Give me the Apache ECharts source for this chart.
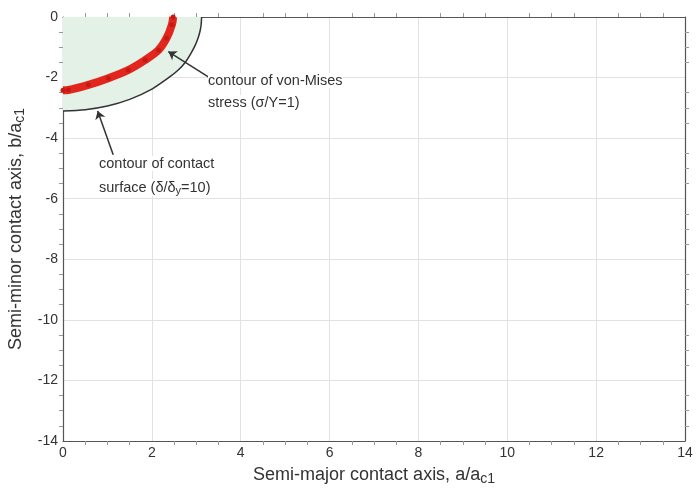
<!DOCTYPE html>
<html>
<head>
<meta charset="utf-8">
<script src="https://cdn.jsdelivr.net/npm/echarts@6/dist/echarts.min.js"></script>
<style>
  html, body { margin: 0; padding: 0; background: #fff; }
  #main { width: 699px; height: 490px; }
</style>
</head>
<body>
<div id="main"></div>
<script>
// contour of contact surface (delta/delta_y = 10)
let contactX = [0, 0.5, 1.0, 1.5, 2.0, 2.4, 2.6, 2.75, 2.88, 2.98, 3.05, 3.09, 3.11, 3.12]
let contactY = [-3.1, -3.06, -2.94, -2.72, -2.38, -1.98, -1.74, -1.5, -1.2, -0.92, -0.65, -0.43, -0.24, 0]

// contour of von-Mises stress (sigma/Y = 1)
let misesX = [0, 0.12, 0.57, 1.02, 1.47, 1.85, 2.15, 2.33, 2.45, 2.48]
let misesY = [-2.42, -2.41, -2.24, -2.02, -1.75, -1.42, -1.09, -0.7, -0.26, 0]

let xTicks = [0, 2, 4, 6, 8, 10, 12, 14]
let yTicks = [-14, -12, -10, -8, -6, -4, -2, 0]

// arrows: [from, to] in data units
let misesArrow = [[3.27, -1.98], [2.37, -1.14]]
let contactArrow = [[1.13, -4.55], [0.78, -3.1]]

let pair = (xs, ys) => xs.map((x, i) => [x, ys[i]])

let chart = echarts.init(document.getElementById('main'))
let font = 'Liberation Sans, Arial, sans-serif'
let axisCol = '#555'

let minorAxis = {
    min: 0, max: 14, interval: 2,
    axisLine: { show: true, onZero: false, lineStyle: { color: axisCol, width: 1.2 } },
    axisTick: { show: false },
    minorTick: { show: true, splitNumber: 4, length: 4, lineStyle: { color: '#999' } },
    splitLine: { show: false },
    axisLabel: { show: false }
}
let subRich = (size) => ({ s: { fontFamily: font, fontSize: size, color: '#333', verticalAlign: 'bottom', padding: [7, 0, 0, 0] } })

let option = {
    backgroundColor: '#fff',
    animation: false,
    grid: { left: 63, right: 14, top: 17, bottom: 49, containLabel: false, outerBoundsMode: 'none' },
    xAxis: [{
        type: 'value', min: 0, max: 14, interval: 2,
        name: 'Semi-major contact axis, a/a{s|c1}',
        nameLocation: 'middle', nameGap: 24,
        nameTextStyle: { fontFamily: font, fontSize: 18, color: '#333', rich: subRich(14) },
        axisLine: { show: true, onZero: false, lineStyle: { color: axisCol, width: 1.2 } },
        axisTick: { show: false },
        minorTick: { show: true, splitNumber: 4, length: 4, lineStyle: { color: '#999' } },
        splitLine: { show: true, lineStyle: { color: '#e2e2e2' } },
        axisLabel: { fontFamily: font, fontSize: 14, color: '#333', margin: 5, formatter: v => xTicks.includes(v) ? v : '' }
    }, Object.assign({ type: 'value', position: 'top' }, minorAxis)],
    yAxis: [{
        type: 'value', min: -14, max: 0, interval: 2,
        name: 'Semi-minor contact axis, b/a{s|c1}',
        nameLocation: 'middle', nameGap: 33, nameRotate: 90,
        nameTextStyle: { fontFamily: font, fontSize: 18, color: '#333', rich: subRich(14) },
        axisLine: { show: true, onZero: false, lineStyle: { color: axisCol, width: 1.2 } },
        axisTick: { show: false },
        minorTick: { show: true, splitNumber: 4, length: 4, lineStyle: { color: '#999' } },
        splitLine: { show: true, lineStyle: { color: '#e2e2e2' } },
        axisLabel: { fontFamily: font, fontSize: 14, color: '#333', margin: 5, formatter: v => yTicks.includes(v) ? v : '' }
    }, Object.assign({ type: 'value', position: 'right' }, minorAxis, { min: -14, max: 0 })],
    series: [{
        name: 'contact',
        type: 'line',
        data: pair(contactX, contactY),
        showSymbol: false,
        smooth: 0.3,
        lineStyle: { color: '#333', width: 1.5 },
        areaStyle: { color: '#e3f1e7', opacity: 1, origin: 'end' },
        markLine: {
            silent: true,
            symbol: ['none', 'arrow'],
            symbolSize: 8,
            label: { show: false },
            lineStyle: { color: '#333', width: 1.5, type: 'solid' },
            data: [
                [{ coord: misesArrow[0] }, { coord: misesArrow[1] }],
                [{ coord: contactArrow[0] }, { coord: contactArrow[1] }]
            ]
        },
        z: 2
    }, {
        name: 'mises',
        type: 'line',
        data: pair(misesX, misesY),
        smooth: 0.3,
        symbol: 'circle',
        symbolSize: 5,
        itemStyle: { color: '#c41a14' },
        lineStyle: { color: '#e3261d', width: 8 },
        z: 3
    }],
    graphic: [
        { type: 'text', z: 100, left: 208, top: 73, style: { text: 'contour of von-Mises', font: '14.5px ' + font, fill: '#333', backgroundColor: '#fff' } },
        { type: 'text', z: 100, left: 208, top: 95, style: { text: 'stress (\u03c3/Y=1)', font: '14.5px ' + font, fill: '#333', backgroundColor: '#fff' } },
        { type: 'text', z: 100, left: 99, top: 156, style: { text: 'contour of contact', font: '14.5px ' + font, fill: '#333', backgroundColor: '#fff' } },
        { type: 'text', z: 100, left: 99, top: 179, style: {
            text: 'surface (\u03b4/\u03b4{s|y}=10)', font: '14.5px ' + font, fill: '#333', backgroundColor: '#fff',
            rich: { s: { font: '11px ' + font, fill: '#333', padding: [6, 0, 0, 0] } }
        } }
    ]
}
chart.setOption(option)
</script>
</body>
</html>
